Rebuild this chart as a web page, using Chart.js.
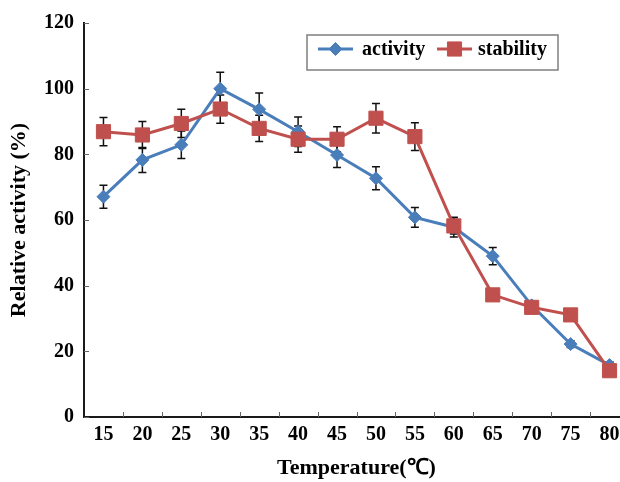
<!DOCTYPE html>
<html>
<head>
<meta charset="utf-8">
<style>
html,body{margin:0;padding:0;overflow:hidden;background:#fff;width:620px;height:482px}
#wrap{position:relative;width:640px;height:482px}
</style>
<script src="https://cdn.jsdelivr.net/npm/chart.js@4/dist/chart.umd.min.js"></script>
</head>
<body>
<div id="wrap"><canvas id="c" width="640" height="482"></canvas></div>
<script>
// ---- data ----
const temperatures = ['15','20','25','30','35','40','45','50','55','60','65','70','75','80'];
const activity     = [67.1, 78.3, 82.9, 100.0, 93.7, 86.9, 79.8, 72.7, 60.8, 57.8, 49.0, 34.0, 22.2, 15.8];
const activityErr  = [3.5, 3.8, 4.2, 5.0, 5.0, 4.5, 3.8, 3.5, 3.0, 3.0, 2.6, 1.0, 1.0, 1.0];
const stability    = [86.9, 85.9, 89.4, 93.8, 87.9, 84.6, 84.6, 91.0, 85.4, 58.2, 37.2, 33.4, 31.1, 14.1];
const stabilityErr = [4.3, 4.1, 4.3, 4.3, 4.0, 4.0, 3.8, 4.5, 4.2, 2.5, 1.5, 1.0, 1.0, 1.0];
const yTicks = [0, 20, 40, 60, 80, 100, 120];
const seriesNames = ['activity', 'stability'];

const BLUE = '#4a7ebb';
const RED = '#c0504d';
const FONT = "'Liberation Serif', 'Times New Roman', serif";

// error bars drawn through the library's scales (behind the markers)
const errorBars = {
  id: 'errorBars',
  beforeDatasetsDraw(chart) {
    const ctx = chart.ctx;
    const ys = chart.scales.y;
    ctx.save();
    ctx.strokeStyle = '#111';
    ctx.lineWidth = 1.5;
    chart.data.datasets.forEach((ds, di) => {
      const meta = chart.getDatasetMeta(di);
      meta.data.forEach((pt, i) => {
        const v = ds.data[i], e = ds.errors[i];
        const yt = ys.getPixelForValue(v + e), yb = ys.getPixelForValue(v - e);
        ctx.beginPath();
        ctx.moveTo(pt.x, yt); ctx.lineTo(pt.x, yb);
        ctx.moveTo(pt.x - 4, yt); ctx.lineTo(pt.x + 4, yt);
        ctx.moveTo(pt.x - 4, yb); ctx.lineTo(pt.x + 4, yb);
        ctx.stroke();
      });
    });
    ctx.restore();
  }
};

// small inside tick marks
const innerTicks = {
  id: 'innerTicks',
  afterDraw(chart) {
    const ctx = chart.ctx;
    const xs = chart.scales.x, ys = chart.scales.y;
    const a = chart.chartArea;
    ctx.save();
    ctx.strokeStyle = '#666';
    ctx.lineWidth = 1;
    ctx.beginPath();
    yTicks.forEach(v => {
      const y = Math.round(ys.getPixelForValue(v)) + 0.5;
      ctx.moveTo(a.left, y); ctx.lineTo(a.left + 5, y);
    });
    for (let i = 1; i <= temperatures.length; i++) {
      const x = Math.round(xs.getPixelForValue(i - 0.5)) + 0.5;
      ctx.moveTo(x, a.bottom); ctx.lineTo(x, a.bottom - 5);
    }
    ctx.stroke();
    ctx.restore();
  }
};

// boxed legend inside the plot
const boxLegend = {
  id: 'boxLegend',
  afterDraw(chart) {
    const ctx = chart.ctx;
    ctx.save();
    ctx.fillStyle = '#fff';
    ctx.fillRect(307, 35, 251, 35);
    ctx.strokeStyle = '#7f7f7f';
    ctx.lineWidth = 1.5;
    ctx.strokeRect(307, 35, 251, 35);
    const items = [{x0: 318, tx: 362}, {x0: 437, tx: 478}];
    const ly = 49;
    chart.data.datasets.forEach((ds, i) => {
      const it = items[i];
      ctx.strokeStyle = ds.borderColor;
      ctx.lineWidth = 3;
      ctx.beginPath(); ctx.moveTo(it.x0, ly); ctx.lineTo(it.x0 + 35, ly); ctx.stroke();
      ctx.fillStyle = ds.pointBackgroundColor;
      ctx.strokeStyle = ds.pointBackgroundColor;
      ctx.lineWidth = 1;
      Chart.helpers.drawPoint(ctx, {pointStyle: ds.pointStyle, radius: ds.pointRadius, borderWidth: 1, rotation: 0},
        it.x0 + 17.5, ly);
      ctx.fillStyle = '#000';
      ctx.font = 'bold 20px ' + FONT;
      ctx.textBaseline = 'middle';
      ctx.textAlign = 'left';
      ctx.fillText(ds.label, it.tx, ly + 1);
    });
    ctx.restore();
  }
};

const tickFont = {family: FONT, weight: 'bold', size: 20};
const titleFont = {family: FONT, weight: 'bold', size: 22};

new Chart(document.getElementById('c'), {
  type: 'line',
  data: {
    labels: temperatures,
    datasets: [
      {
        label: seriesNames[0], data: activity, errors: activityErr, order: 1,
        borderColor: BLUE, backgroundColor: BLUE, borderWidth: 3,
        pointStyle: 'rectRot', pointRadius: 6.5, pointBackgroundColor: BLUE, pointBorderColor: BLUE,
        pointBorderWidth: 1, tension: 0, fill: false
      },
      {
        label: seriesNames[1], data: stability, errors: stabilityErr, order: 0,
        borderColor: RED, backgroundColor: RED, borderWidth: 3,
        pointStyle: 'rect', pointRadius: 10, pointBackgroundColor: RED, pointBorderColor: RED,
        pointBorderWidth: 1, tension: 0, fill: false
      }
    ]
  },
  options: {
    responsive: false,
    animation: false,
    devicePixelRatio: 1,
    layout: {padding: {top: 23, right: 7, left: 0, bottom: 0}},
    plugins: {legend: {display: false}, tooltip: {enabled: false}},
    scales: {
      x: {
        type: 'category', offset: true,
        grid: {display: false, drawTicks: false, tickLength: 0, offset: true},
        border: {display: true, color: '#1a1a1a', width: 2},
        ticks: {color: '#000', font: tickFont, padding: 6, maxRotation: 0, autoSkip: false},
        title: {display: true, text: 'Temperature(℃)', color: '#000', font: titleFont, padding: {top: 0, bottom: 0}},
        afterFit(s) { s.height = 65; }
      },
      y: {
        min: 0, max: 120,
        afterBuildTicks(s) { s.ticks = yTicks.map(v => ({value: v})); },
        grid: {display: false, drawTicks: false, tickLength: 0},
        border: {display: true, color: '#1a1a1a', width: 2},
        ticks: {color: '#000', font: tickFont, padding: 10},
        title: {display: true, text: 'Relative activity (%)', color: '#000', font: titleFont, padding: {top: 6, bottom: 0}},
        afterFit(s) { s.width = 84; }
      }
    }
  },
  plugins: [errorBars, innerTicks, boxLegend]
});
</script>
</body>
</html>
